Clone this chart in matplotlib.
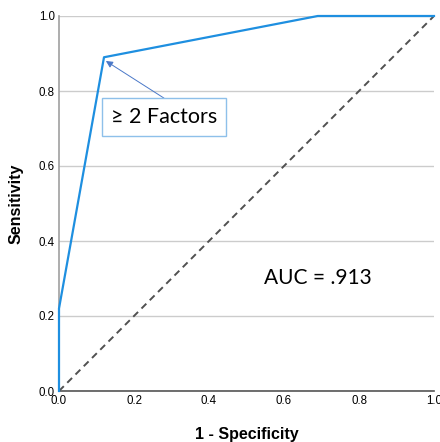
import matplotlib
matplotlib.use("Agg")
import matplotlib.pyplot as plt

# ROC curve points
fpr = [0.0, 0.0, 0.12, 0.69, 1.0]
tpr = [0.0, 0.22, 0.89, 1.0, 1.0]
ticks = [0.0, 0.2, 0.4, 0.6, 0.8, 1.0]
tick_labels = ["0.0", "0.2", "0.4", "0.6", "0.8", "1.0"]
cut_label = "\u2265 2 Factors"
cut_point = (0.12, 0.89)
auc_text = "AUC = .913"

plt.rcParams["font.family"] = ["Liberation Sans", "DejaVu Sans"]

fig = plt.figure(figsize=(4.4, 4.42), dpi=100)
ax = fig.add_axes([59 / 440, 1 - 391 / 442, 375 / 440, 375 / 442])

ax.plot([0, 1], [0, 1], ls=(0, (3.5, 2.5)), color="#505050", lw=1.4, zorder=2)
ax.plot(fpr, tpr, color="#1E8FE0", lw=1.6, zorder=3, clip_on=False)

ax.set_xlim(0, 1)
ax.set_ylim(0, 1)
ax.set_xticks(ticks)
ax.set_xticklabels(tick_labels)
ax.set_yticks(ticks)
ax.set_yticklabels(tick_labels)
ax.tick_params(length=0, labelsize=8.3, pad=3, colors="black")
ax.yaxis.grid(True, color="#cccccc", lw=1)
ax.set_axisbelow(True)

for s in ["top", "right"]:
    ax.spines[s].set_visible(False)
ax.spines["left"].set_color("#a0a0a0")
ax.spines["left"].set_linewidth(1.2)
ax.spines["bottom"].set_color("#555555")
ax.spines["bottom"].set_linewidth(1.2)

ax.set_xlabel("1 - Specificity", fontsize=11.5, fontweight="bold", labelpad=14)
ax.set_ylabel("Sensitivity", fontsize=11.5, fontweight="bold", labelpad=11)

# label box, and an arrow from the middle of its top edge to the cut-off point
ax.text(0.28, 0.73, cut_label, ha="center", va="center",
        fontsize=15.5, family=["Lato", "DejaVu Sans"], zorder=5,
        bbox=dict(boxstyle="square,pad=0.42", fc="white", ec="#8ec0ea", lw=1))
ax.annotate("", xy=(cut_point[0] + 0.005, cut_point[1] - 0.01),
            xytext=(0.28, 0.781),
            arrowprops=dict(arrowstyle="-|>", color="#4a78c8", lw=0.7,
                            mutation_scale=10, shrinkA=0, shrinkB=0),
            zorder=4)

ax.text(0.69, 0.30, auc_text, ha="center", va="center", fontsize=15,
        family=["Lato", "DejaVu Sans"])

fig.savefig("out.png", dpi=100)
